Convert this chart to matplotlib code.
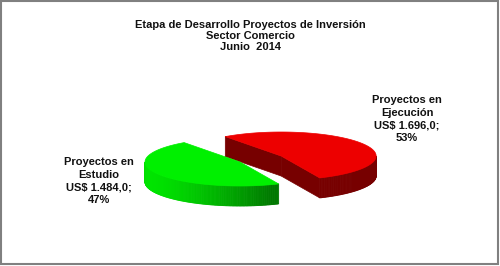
import numpy as np
import matplotlib
matplotlib.use('Agg')
from matplotlib import pyplot as plt
from matplotlib.patches import Polygon, Rectangle

# datos del grafico
categories = ['Proyectos en\nEstudio', 'Proyectos en\nEjecución']
values = [1484.0, 1696.0]
explode = [0.0, 0.5]
title = 'Etapa de Desarrollo Proyectos de Inversión\nSector Comercio\nJunio  2014'

colors = [(0.0, 0.94, 0.0), (0.93, 0.0, 0.0)]

plt.rcParams['font.family'] = ['Liberation Sans', 'DejaVu Sans']

# geometria del pie 3D (en pixeles)
cx, cy = 240, 162
R, r, h = 95, 24, 20
start = 126


def pt(theta, x0, y0, dy=0):
    t = np.radians(theta)
    return (x0 + R * np.cos(t), y0 - r * np.sin(t) + dy)


def shade(theta):
    return 0.5 + 0.45 * max(0.0, np.cos(np.radians(theta - 200)))


def darker(c, f):
    return tuple(v * f for v in c)


def es_num(v):
    s = f"{v:,.1f}"
    return s.replace(',', 'X').replace('.', ',').replace('X', '.')


fig = plt.figure(figsize=(5, 2.66), dpi=100)
ax = fig.add_axes([0, 0, 1, 1])
ax.set_xlim(0, 500)
ax.set_ylim(266, 0)
ax.axis('off')

total = sum(values)
slices = []
a = start
for i, v in enumerate(values):
    span = v / total * 360
    mid = np.radians(a + span / 2)
    x0 = cx + explode[i] * R * np.cos(mid)
    y0 = cy - explode[i] * r * np.sin(mid)
    slices.append((i, a, a + span, x0, y0))
    a += span

# de atras hacia adelante
slices.sort(key=lambda s: s[4])

for i, ts, te, x0, y0 in slices:
    col = colors[i]
    # caras de corte
    for th, nrm in [(ts, ts - 90), (te, te + 90)]:
        if np.sin(np.radians(nrm)) < 0:
            p = pt(th, x0, y0)
            poly = [(x0, y0), p, (p[0], p[1] + h), (x0, y0 + h)]
            c = darker(col, 0.5)
            ax.add_patch(Polygon(poly, closed=True, facecolor=c, edgecolor=c, lw=0.5))
    # borde exterior visible
    thetas = np.linspace(ts, te, 200)
    for k in range(len(thetas) - 1):
        t1, t2 = thetas[k], thetas[k + 1]
        tm = (t1 + t2) / 2
        if np.sin(np.radians(tm)) >= 0:
            continue
        p1, p2 = pt(t1, x0, y0), pt(t2, x0, y0)
        poly = [p1, p2, (p2[0], p2[1] + h), (p1[0], p1[1] + h)]
        c = darker(col, shade(tm % 360))
        ax.add_patch(Polygon(poly, closed=True, facecolor=c, edgecolor=c, lw=0.6))
    # cara superior
    top = [(x0, y0)] + [pt(t, x0, y0) for t in thetas]
    ax.add_patch(Polygon(top, closed=True, facecolor=col, edgecolor=col, lw=0.5))

# etiquetas
label_pos = [(99, 181), (407, 119)]
for i, v in enumerate(values):
    pct = round(v / total * 100)
    txt = f"{categories[i]}\nUS$ {es_num(v)};\n{pct}%"
    ax.text(label_pos[i][0], label_pos[i][1], txt, ha='center', va='center',
            fontsize=8, fontweight='bold', linespacing=1.35, color='#111111')

fig.text(0.5, 1 - 36 / 266, title, ha='center', va='center', fontsize=8,
         fontweight='bold', linespacing=1.15, color='#111111')

fig.patches.append(Rectangle((0.002, 0.006), 0.994, 0.99, transform=fig.transFigure,
                             fill=False, edgecolor='#808080', lw=1.5))

fig.savefig('out.png', dpi=100)
